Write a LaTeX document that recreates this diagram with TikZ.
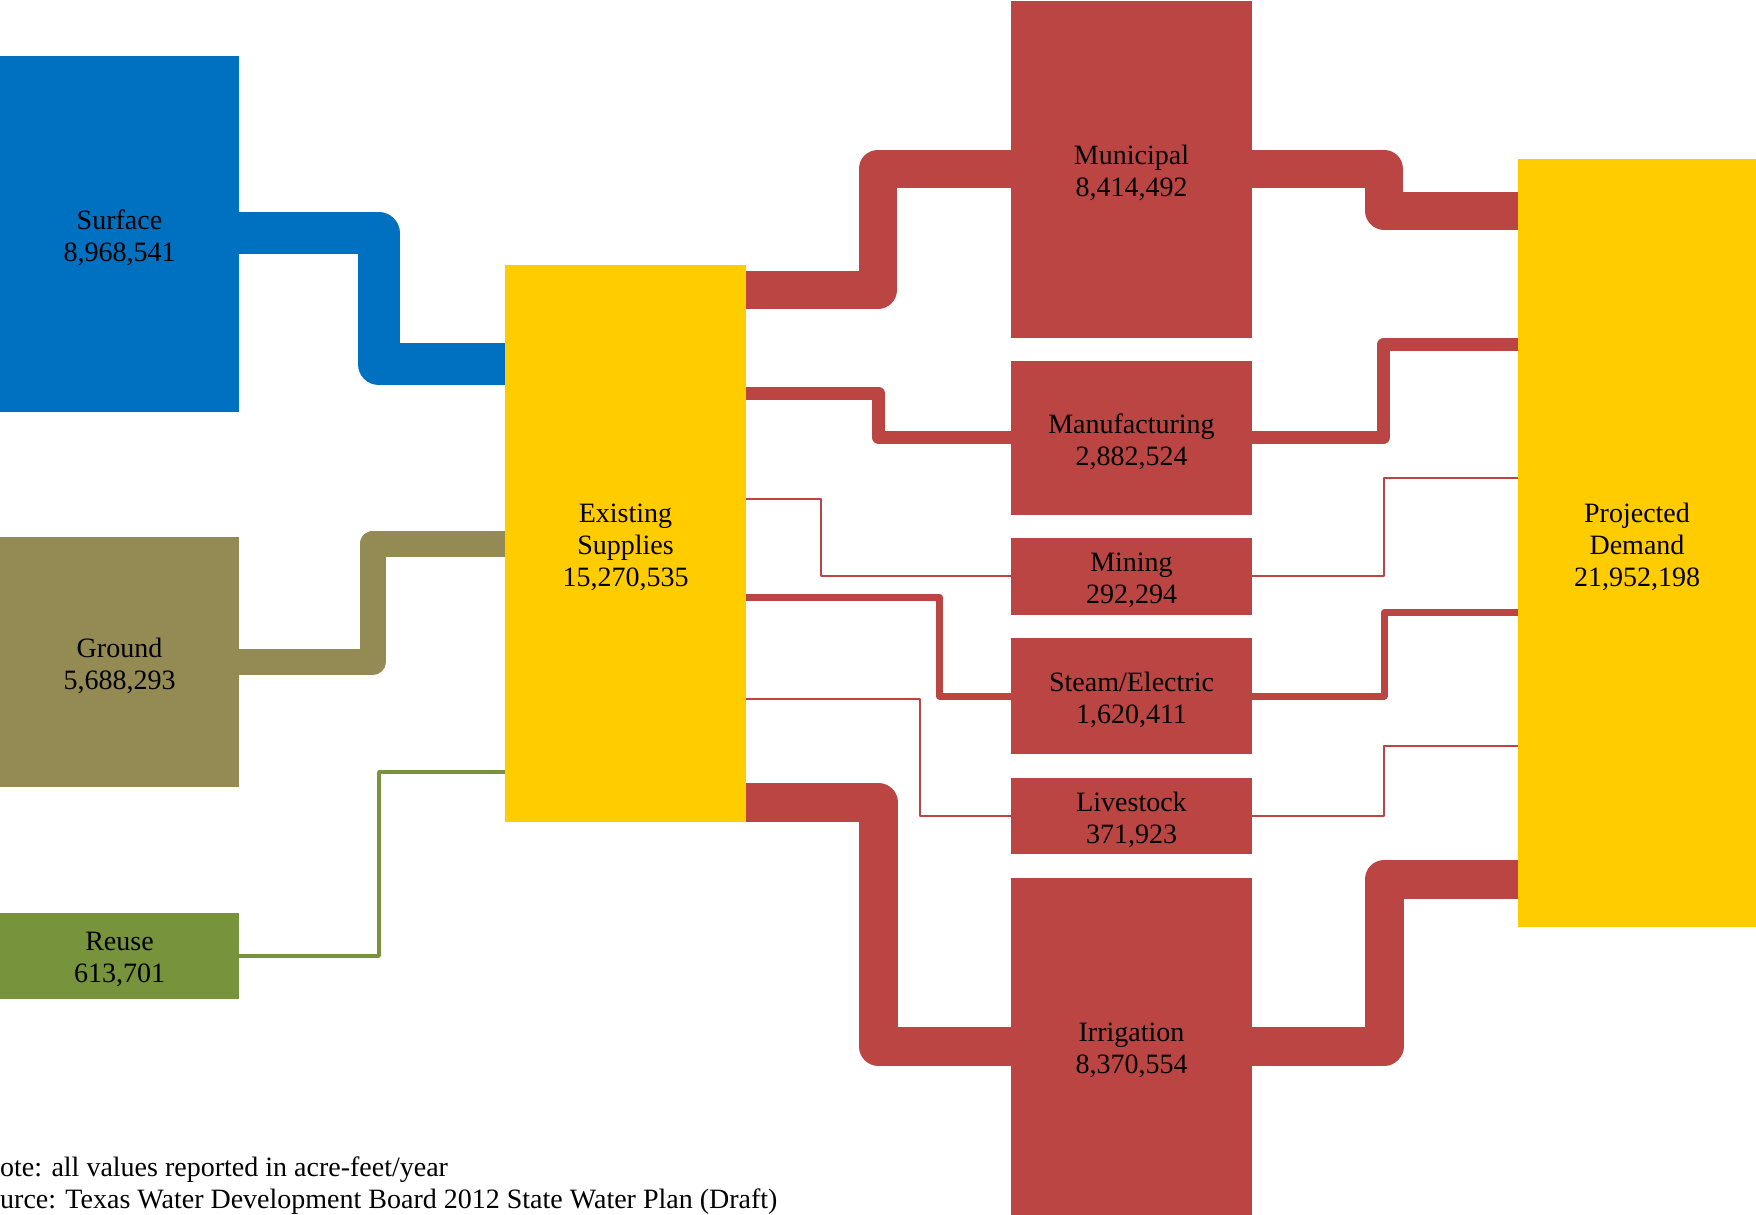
\documentclass[tikz,border=0pt]{standalone}
\usepackage{fontspec}
\setmainfont{Liberation Serif}
\usetikzlibrary{backgrounds}
\definecolor{cblue}{RGB}{0,112,192}
\definecolor{colive}{RGB}{148,138,84}
\definecolor{cgreen}{RGB}{119,147,60}
\definecolor{cyellow}{RGB}{255,204,0}
\definecolor{cred}{RGB}{187,69,67}
\begin{document}
\begin{tikzpicture}[x=1pt,y=-1pt,
  box/.style={draw=none, inner sep=0pt, outer sep=0pt, anchor=north west},
  lbl/.style={inner sep=0pt, align=center, font=\fontsize{28}{32}\selectfont, text=black},
  flow/.style={line join=round, line cap=butt},
  foot/.style={inner sep=0pt, anchor=west, font=\fontsize{28}{32}\selectfont, text=black}]
\useasboundingbox (0,0) rectangle (1756,1215);
% boxes
\node[box, fill=cblue, minimum width=239pt, minimum height=356pt] (surf) at (0,56) {};
\node[box, fill=colive, minimum width=239pt, minimum height=250pt] (ground) at (0,537) {};
\node[box, fill=cgreen, minimum width=239pt, minimum height=86pt] (reuse) at (0,913) {};
\node[box, fill=cyellow, minimum width=241pt, minimum height=557pt] (exist) at (505,265) {};
\node[box, fill=cred, minimum width=241pt, minimum height=337pt] (mun) at (1011,1) {};
\node[box, fill=cred, minimum width=241pt, minimum height=154pt] (manu) at (1011,361) {};
\node[box, fill=cred, minimum width=241pt, minimum height=77pt] (mining) at (1011,538) {};
\node[box, fill=cred, minimum width=241pt, minimum height=116pt] (steam) at (1011,638) {};
\node[box, fill=cred, minimum width=241pt, minimum height=76pt] (live) at (1011,778) {};
\node[box, fill=cred, minimum width=241pt, minimum height=337pt] (irr) at (1011,878) {};
\node[box, fill=cyellow, minimum width=238pt, minimum height=768pt] (proj) at (1518,159) {};
% box texts
\node[lbl] (surfT) at ([yshift=-3.5pt]surf.center) {Surface\\8,968,541};
\node[lbl] (groundT) at ([yshift=-3.5pt]ground.center) {Ground\\5,688,293};
\node[lbl] (reuseT) at ([yshift=-3.5pt]reuse.center) {Reuse\\613,701};
\node[lbl] (existT) at ([yshift=-3.5pt]exist.center) {Existing\\Supplies\\15,270,535};
\node[lbl] (munT) at ([yshift=-3.5pt]mun.center) {Municipal\\8,414,492};
\node[lbl] (manuT) at ([yshift=-3.5pt]manu.center) {Manufacturing\\2,882,524};
\node[lbl] (miningT) at ([yshift=-3.5pt]mining.center) {Mining\\292,294};
\node[lbl] (steamT) at ([yshift=-3.5pt]steam.center) {Steam/Electric\\1,620,411};
\node[lbl] (liveT) at ([yshift=-3.5pt]live.center) {Livestock\\371,923};
\node[lbl] (irrT) at ([yshift=-3.5pt]irr.center) {Irrigation\\8,370,554};
\node[lbl] (projT) at ([yshift=-3.5pt]proj.center) {Projected\\Demand\\21,952,198};
% footnotes
\node[foot] (note) at (0,1170) {\llap{N}ote: all values reported in acre-feet/year};
\node[foot] (src) at (0,1202) {\llap{So}urce: Texas Water Development Board 2012 State Water Plan (Draft)};
% connectors
\begin{scope}[on background layer]
\fill[white] (0,0) rectangle (1756,1215);
\draw[flow, cblue, line width=42pt] (surf.east |- 0,233) -- (378.5,233) -- (378.5,364) -- (exist.west |- 0,364);
\draw[flow, colive, line width=26pt] (ground.east |- 0,662) -- (372.5,662) -- (372.5,543.5) -- (exist.west |- 0,543.5);
\draw[flow, cgreen, line width=3.5pt] (reuse.east |- 0,956) -- (379,956) -- (379,772) -- (exist.west |- 0,772);
\draw[flow, cred, line width=38pt] (exist.east |- 0,290) -- (878,290) -- (878,168.5) -- (mun.west |- 0,168.5);
\draw[flow, cred, line width=38pt] (mun.east |- 0,168.5) -- (1384,168.5) -- (1384,210.5) -- (proj.west |- 0,210.5);
\draw[flow, cred, line width=13pt] (exist.east |- 0,393) -- (878.5,393) -- (878.5,437.5) -- (manu.west |- 0,437.5);
\draw[flow, cred, line width=13pt] (manu.east |- 0,437.5) -- (1383.5,437.5) -- (1383.5,344.5) -- (proj.west |- 0,344.5);
\draw[flow, cred, line width=2.5pt] (exist.east |- 0,499) -- (821,499) -- (821,576) -- (mining.west |- 0,576);
\draw[flow, cred, line width=2.5pt] (mining.east |- 0,576) -- (1384,576) -- (1384,478) -- (proj.west |- 0,478);
\draw[flow, cred, line width=7pt] (exist.east |- 0,597) -- (939.5,597) -- (939.5,696) -- (steam.west |- 0,696);
\draw[flow, cred, line width=7pt] (steam.east |- 0,696) -- (1384,696) -- (1384,612.5) -- (proj.west |- 0,612.5);
\draw[flow, cred, line width=2.5pt] (exist.east |- 0,699) -- (920,699) -- (920,816) -- (live.west |- 0,816);
\draw[flow, cred, line width=2.5pt] (live.east |- 0,816) -- (1384,816) -- (1384,746) -- (proj.west |- 0,746);
\draw[flow, cred, line width=39pt] (exist.east |- 0,802) -- (878,802) -- (878,1046) -- (irr.west |- 0,1046);
\draw[flow, cred, line width=39pt] (irr.east |- 0,1046) -- (1384,1046) -- (1384,879.5) -- (proj.west |- 0,879.5);
\end{scope}
\end{tikzpicture}
\end{document}
